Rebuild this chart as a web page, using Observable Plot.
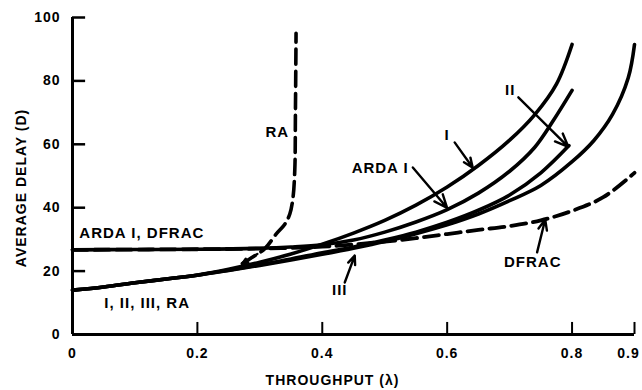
<!DOCTYPE html>
<html>
<head>
<meta charset="utf-8">
<script src="https://cdn.jsdelivr.net/npm/d3@7"></script>
<script src="https://cdn.jsdelivr.net/npm/@observablehq/plot@0.6"></script>
<style>
  html, body { margin: 0; padding: 0; background: #fff; }
  #chart svg { display: block; }
  #chart svg text { font-family: "Liberation Sans", Arial, sans-serif; font-weight: bold; fill: #000; letter-spacing: 1px; }
</style>
</head>
<body>
<div id="chart"></div>
<script>
// Average delay D versus throughput λ for each access scheme
const iX = [0, 0.05, 0.1, 0.15, 0.2, 0.25, 0.3, 0.35, 0.4, 0.45, 0.5, 0.55, 0.6, 0.65, 0.7, 0.74, 0.775, 0.8];
const iY = [14, 15, 16.3, 17.5, 18.8, 20.6, 22.8, 25.4, 28.5, 32, 36, 40.8, 46.5, 53.3, 61.3, 69.3, 79, 91.5];

const iiX = [0, 0.05, 0.1, 0.15, 0.2, 0.25, 0.3, 0.35, 0.4, 0.45, 0.5, 0.55, 0.6, 0.65, 0.7, 0.75, 0.795];
const iiY = [14, 15, 16.3, 17.5, 18.7, 20.3, 22, 23.8, 25.8, 27.6, 29.8, 32.3, 35.4, 39.2, 44, 51, 59.6];

const iiiX = [0, 0.05, 0.1, 0.15, 0.2, 0.25, 0.3, 0.35, 0.4, 0.45, 0.5, 0.55, 0.6, 0.65, 0.7, 0.75, 0.8, 0.835, 0.865, 0.89, 0.9];
const iiiY = [14, 15, 16.3, 17.5, 18.7, 20.2, 21.8, 23.5, 25.3, 27.2, 29.3, 31.8, 34.6, 38, 42.2, 47, 54.5, 61.2, 69.5, 81, 91.5];

const ardaX = [0, 0.1, 0.2, 0.3, 0.35, 0.4, 0.45, 0.5, 0.55, 0.6, 0.65, 0.7, 0.74, 0.77, 0.8];
const ardaY = [26.7, 26.8, 26.9, 27.2, 27.6, 28.3, 29.8, 32.3, 35.5, 39.4, 44.6, 51.5, 59, 67.5, 77];

const dfracX = [0, 0.1, 0.2, 0.3, 0.35, 0.4, 0.45, 0.5, 0.55, 0.6, 0.65, 0.7, 0.75, 0.8, 0.85, 0.9];
const dfracY = [26.7, 26.8, 26.9, 27.1, 27.3, 27.7, 28.4, 29.3, 30.4, 31.7, 33, 34.2, 36, 39, 43.3, 51];

const raX = [0.272, 0.29, 0.308, 0.327, 0.34, 0.348, 0.353, 0.356, 0.357, 0.358];
const raY = [22.4, 24.6, 27.1, 31.9, 34.8, 38, 43, 52, 70, 95];

// Axis ticks
const xTicks = [0, 0.2, 0.4, 0.6, 0.8, 0.9];
const yTicks = [0, 20, 40, 60, 80, 100];

// Curve labels and their pointers (in data units)
const labelText = ["RA", "I", "ARDA I", "II", "III", "DFRAC", "ARDA I, DFRAC", "I, II, III, RA"];
const labelX = [0.347, 0.6, 0.447, 0.701, 0.428, 0.737, 0.011, 0.051];
const labelY = [63.7, 62.8, 52.4, 77, 13.9, 22.9, 31.9, 9.8];
const labelAnchor = ["end", "middle", "start", "middle", "middle", "middle", "start", "start"];

const pointerFrom = [[0.612, 60.6], [0.545, 52.7], [0.714, 74.8], [0.436, 16.4], [0.744, 25.9], [0.296, 25.4]];
const pointerTo = [[0.641, 52.6], [0.6, 39.9], [0.794, 59.2], [0.452, 24.9], [0.757, 36.3], [0.272, 22.4]];

const toRows = (name, xs, ys) => xs.map((x, i) => ({scheme: name, x, y: ys[i]}));
const solidRows = [
  ...toRows("I", iX, iY),
  ...toRows("II", iiX, iiY),
  ...toRows("III", iiiX, iiiY),
  ...toRows("ARDA I", ardaX, ardaY)
];
const dfracRows = toRows("DFRAC", dfracX, dfracY);
const raRows = toRows("RA", raX, raY);

const labels = labelText.map((t, i) => ({text: t, x: labelX[i], y: labelY[i], anchor: labelAnchor[i]}));
const pointers = pointerFrom.map((p, i) => ({x1: p[0], y1: p[1], x2: pointerTo[i][0], y2: pointerTo[i][1]}));

const labelMark = anchor => Plot.text(labels.filter(d => d.anchor === anchor), {
  x: "x", y: "y", text: "text", textAnchor: anchor, lineAnchor: "middle",
  fontSize: 15, fontWeight: "bold", fill: "#000"
});

const tickText = {tickSize: 0, tickFormat: d => String(d), label: null, fontSize: 14, fontWeight: "bold"};

const chart = Plot.plot({
  width: 642,
  height: 390,
  marginLeft: 72,
  marginRight: 8,
  marginTop: 17,
  marginBottom: 56,
  x: {domain: [0, 0.9], label: null},
  y: {domain: [0, 100], label: null},
  style: {background: "#fff", color: "#000", fontSize: "14px"},
  marks: [
    // tick labels (the last one nudged in from the right edge)
    Plot.axisX(xTicks.slice(0, -1), {...tickText, tickPadding: 14}),
    Plot.axisX(xTicks.slice(-1), {...tickText, tickPadding: 14, dx: -6}),
    Plot.axisY(yTicks, {...tickText, tickPadding: 12}),
    // axis lines and inward ticks
    Plot.ruleX([0], {y1: 0, y2: 100, stroke: "#000", strokeWidth: 3}),
    Plot.ruleY([0], {x1: 0, x2: 0.9, stroke: "#000", strokeWidth: 3}),
    Plot.ruleY(yTicks.filter(d => d > 0), {x1: 0, x2: 0.021, stroke: "#000", strokeWidth: 2.5}),
    Plot.ruleX(xTicks.filter(d => d > 0), {y1: 0, y2: 3.8, stroke: "#000", strokeWidth: 2}),
    // axis titles
    Plot.text(["AVERAGE DELAY (D)"], {
      text: d => d, frameAnchor: "left", rotate: -90, dx: -51, dy: 12,
      textAnchor: "middle", lineAnchor: "middle", fontSize: 14, fontWeight: "bold", ariaLabel: "y title"
    }),
    Plot.text(["THROUGHPUT (λ)"], {
      text: d => d, frameAnchor: "bottom", dx: -21, dy: 46,
      textAnchor: "middle", lineAnchor: "middle", fontSize: 14, fontWeight: "bold", ariaLabel: "x title"
    }),
    // delay curves
    Plot.line(solidRows, {
      x: "x", y: "y", z: "scheme", curve: "catmull-rom",
      stroke: "#000", strokeWidth: 3.6, strokeLinecap: "round"
    }),
    Plot.line(dfracRows, {
      x: "x", y: "y", curve: "catmull-rom",
      stroke: "#000", strokeWidth: 3.8, strokeDasharray: "15,7"
    }),
    Plot.line(raRows, {
      x: "x", y: "y", curve: "catmull-rom",
      stroke: "#000", strokeWidth: 3.6, strokeDasharray: "15,7"
    }),
    // pointers and labels
    Plot.arrow(pointers, {
      x1: "x1", y1: "y1", x2: "x2", y2: "y2",
      stroke: "#000", strokeWidth: 2.4, headLength: 9, headAngle: 45
    }),
    labelMark("start"),
    labelMark("middle"),
    labelMark("end")
  ]
});

d3.select(chart).selectAll('g[aria-label="y title"] text, g[aria-label="x title"] text')
  .style("letter-spacing", "1.6px");

document.getElementById("chart").appendChild(chart);
</script>
</body>
</html>
